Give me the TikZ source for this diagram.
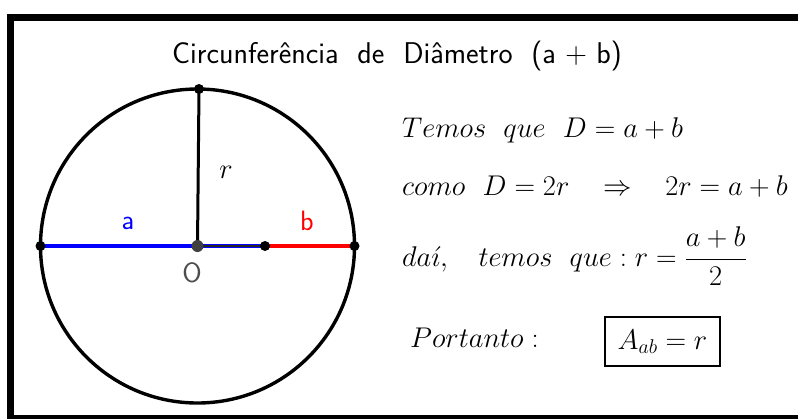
\RequirePackage{fix-cm}
\documentclass[tikz,border=0pt]{standalone}
\usetikzlibrary{positioning}

\begin{document}
\begin{tikzpicture}[
  x=1pt, y=-1pt,
  frame/.style={line width=7pt},
  circ/.style={line width=3.4pt},
  seg/.style={line width=3.6pt},
  pt/.style={fill=black, circle, minimum size=10pt, inner sep=0pt},
  ctr/.style={fill=black!75, circle, minimum size=12pt, inner sep=0pt},
  lbl/.style={font=\sffamily\fontsize{28}{30}\selectfont},
  eq/.style={anchor=base west, inner sep=0pt, font=\fontsize{28.5}{32}\selectfont}
]
\useasboundingbox (0,0) rectangle (798,418);

% Frame
\draw[frame] (802,17) -- (10.5,17) -- (10.5,418.5) -- (802,418.5);

% Title
\node[anchor=base, inner sep=0pt, font=\sffamily\fontsize{30}{34}\selectfont] (title) at (397,63)
  {Circunfer\^encia\ \ de\ \ Di\^ametro\ \ (a $+$ b)};

% Points
\coordinate (O) at (197.5,246);
\coordinate (L) at (40.5,246);
\coordinate (R) at (354.5,246);
\coordinate (T) at (199,89);
\coordinate (M) at (265,246);

% Circle and segments
\draw[circ] (O) circle[radius=157pt];
\draw[seg, blue] (L) -- (M);
\draw[seg, red] (M) -- (R);
\draw[line width=2.4pt, black!85] (O) -- (M);
\draw[line width=3pt] (O) -- (T);

% Dots
\node[pt] (nL) at (L) {};
\node[pt] (nR) at (R) {};
\node[pt] (nT) at (T) {};
\node[pt] (nM) at (M) {};
\node[ctr] (nO) at (O) {};

% Labels
\node[lbl, blue] (la) at (128,223) {a};
\node[lbl, red] (lb) at (307,221) {b};
\node[lbl, black!70] (lO) at (192,273) {O};
\node[font=\fontsize{28.5}{32}\selectfont] (lr) at (226,172) {$r$};

% Equations
\node[eq] (e1) at (402,137) {$Temos\ \ que\ \ D=a+b$};
\node[eq] (e2) at (402,195) {$como\ \ D=2r\ \ \ \Rightarrow\ \ \ 2r=a+b$};
\node[eq] (e3) at (402,266) {$\displaystyle da\acute{\imath},\ \ \ temos\ \ que:r=\frac{a+b}{2}$};
\node[eq] (e4) at (410,347) {$Portanto:$};
\node[draw, line width=1.8pt, minimum width=115pt, minimum height=49pt, inner sep=0pt,
  font=\fontsize{28.5}{32}\selectfont] (box) at (662.5,341.5) {$A_{ab}=r$};

\end{tikzpicture}
\end{document}
